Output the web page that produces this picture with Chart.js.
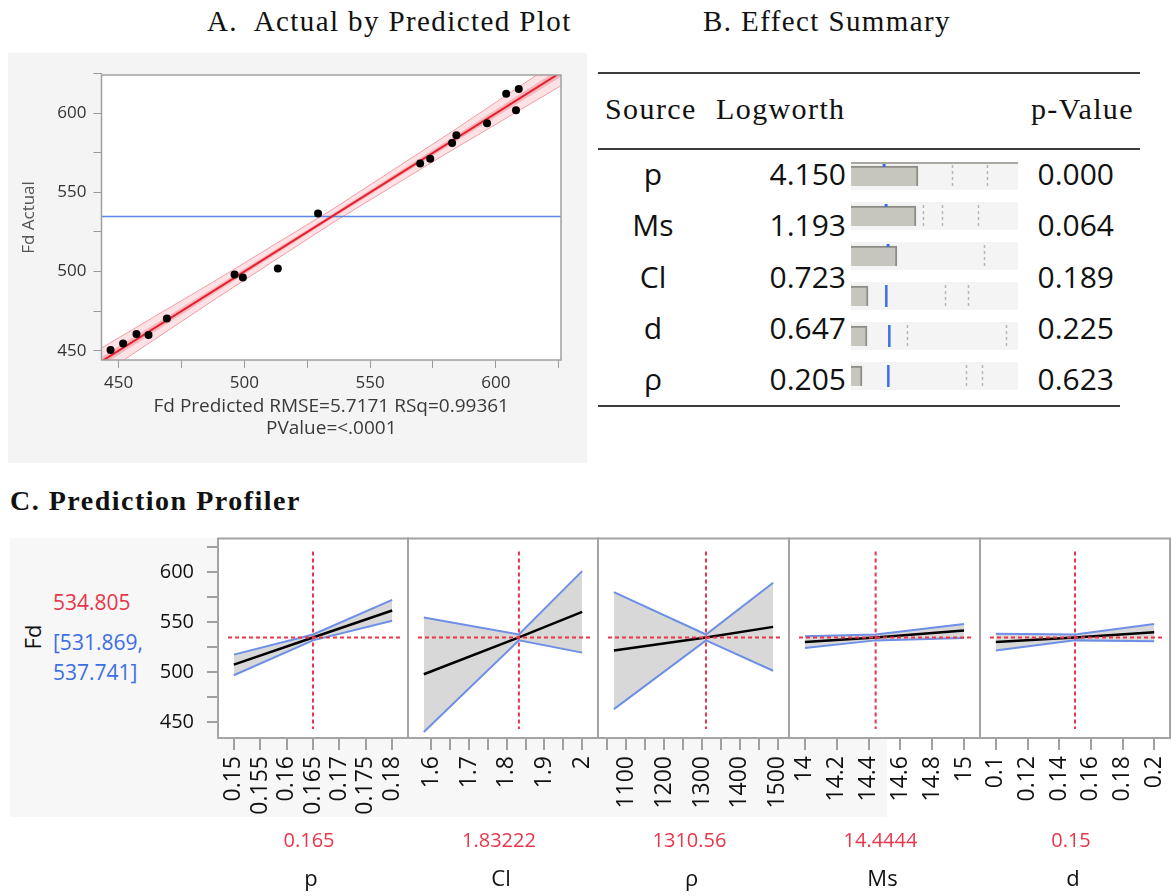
<!DOCTYPE html>
<html>
<head>
<meta charset="utf-8">
<title>Fd model: actual by predicted, effect summary, profiler</title>
<script src="https://cdn.jsdelivr.net/npm/chart.js@4.4.1/dist/chart.umd.min.js"></script>
<style>
  body { margin: 0; background: #fff; }
  #page { position: relative; width: 1172px; height: 896px; overflow: hidden; font-family: "Open Sans", "Noto Sans", sans-serif; color: #111; }
  .abs { position: absolute; white-space: nowrap; line-height: 1.3; }
  .serif { font-family: "Liberation Serif", "Times New Roman", serif; letter-spacing: 1.4px; color: #111; }
  .vc { transform: translateY(-50%); }
  .cc { transform: translate(-50%, -50%); }
  .rule { position: absolute; height: 2px; background: #3c3c3c; }
  canvas { position: absolute; }
</style>
</head>
<body>
<div id="page">
  <!-- A -->
  <div class="abs serif vc" style="left:207px;top:22px;font-size:29px">A.&nbsp; Actual by Predicted Plot</div>
  <div class="abs" style="left:8px;top:53px;width:579px;height:410px;background:#f4f4f4"></div>
  <canvas id="chartA" width="579" height="410" style="left:8px;top:53px"></canvas>

  <!-- B -->
  <div class="abs serif vc" style="left:703px;top:22px;font-size:29px">B. Effect Summary</div>
  <div class="rule" style="left:598px;top:72px;width:542px"></div>
  <div class="abs serif vc" style="left:605px;top:108px;font-size:30px">Source</div>
  <div class="abs serif vc" style="left:716px;top:108px;font-size:30px">Logworth</div>
  <div class="abs serif vc" style="right:38px;top:108px;font-size:30px">p-Value</div>
  <div class="rule" style="left:598px;top:148px;width:542px"></div>
  <div id="tableRows"></div>
  <canvas id="chartB" width="180" height="240" style="left:845px;top:156px"></canvas>
  <div class="rule" style="left:598px;top:405px;width:522px"></div>

  <!-- C -->
  <div class="abs serif vc" style="left:10px;top:501px;font-size:28px;font-weight:bold;letter-spacing:1.5px">C. Prediction Profiler</div>
  <div class="abs" style="left:10px;top:538px;width:877px;height:279px;background:#f7f7f7"></div>
  <div class="abs cc" style="left:32px;top:637px;font-size:22px;transform:translate(-50%,-50%) rotate(-90deg)">Fd</div>
  <div id="profLeft"></div>
  <div id="profCanvases"></div>
  <div id="profBottom"></div>
</div>

<script>
const FONT = '"Open Sans", "Noto Sans", sans-serif';
const RED = '#e8364b';
const BLUE = '#3d6ee6';

// ---------- A. Actual by Predicted ----------
const fdPredicted = [446.8, 451.8, 457.1, 461.9, 469.2, 496.1, 499.4, 513.3, 529.3, 569.9, 573.9, 582.6, 584.3, 596.5, 604.1, 608.0, 609.1];
const fdActual    = [450.4, 454.6, 460.5, 459.9, 470.4, 498.2, 496.3, 502.0, 536.7, 568.3, 571.3, 581.2, 586.2, 593.7, 612.4, 602.0, 615.3];
const fdMean = 534.8;
const fitLineX = [443, 626];
const fitLineY = [443, 626];
const bandX   = [443, 489, 535, 581, 626];
const outerLo = [434.5, 483.2, 530.7, 575.2, 617.5];
const outerHi = [451.5, 494.8, 539.3, 586.8, 634.5];
const innerLo = [440.2, 487.1, 533.6, 579.1, 623.2];
const innerHi = [445.8, 490.9, 536.4, 582.9, 628.8];
const aTicks = [450, 475, 500, 525, 550, 575, 600, 625];
const aTickLabels = ['450', '', '500', '', '550', '', '600', ''];
const aXRange = [443.2, 625.9];
const aYRange = [444.1, 624.2];

// ---------- B. Effect Summary ----------
const sources  = ['p', 'Ms', 'Cl', 'd', 'ρ'];
const logworth = [4.150, 1.193, 0.723, 0.647, 0.205];
const pValues  = [0.000, 0.064, 0.189, 0.225, 0.623];
// the bar strip in the figure has six rows
const barRows   = ['1', '2', '3', '4', '5', '6'];
const barLength = [4.01, 3.89, 2.75, 1.02, 0.96, 0.66];
const blueMark  = [1.98, 2.10, 2.22, 2.10, 2.28, 2.22];
const dashMarks = [[6.05, 8.14], [4.31, 5.45, 7.60], [7.96], [5.63, 7.01], [3.35, 9.28], [6.89, 7.84]];

// ---------- C. Prediction Profiler ----------
const factors     = ['p', 'Cl', 'ρ', 'Ms', 'd'];
const currentX    = [0.165, 1.83222, 1310.56, 14.4444, 0.15];
const currentText = ['0.165', '1.83222', '1310.56', '14.4444', '0.15'];
const traceLowX   = [0.15, 1.58, 1067, 14, 0.1];
const traceHighX  = [0.18, 2.0, 1488, 15, 0.2];
const predLowEnd  = [507.6, 497.9, 521.8, 530.3, 530.3];
const predHighEnd = [561.8, 560.5, 545.4, 541.7, 540.0];
const upperLowEnd = [517.6, 554.8, 580.2, 535.9, 538.6];
const upperHighEnd= [572.5, 601.3, 589.6, 548.4, 548.4];
const lowerLowEnd = [496.9, 440.0, 462.9, 524.2, 521.8];
const lowerHighEnd= [551.5, 519.6, 501.4, 534.3, 530.9];
const fdPred = 534.805, fdLower = 531.869, fdUpper = 537.741;
const xMin = [0.147, 1.538, 1025, 13.9, 0.09];
const xMax = [0.183, 2.042, 1530, 15.1, 0.21];
const xTicks = [
  [0.15, 0.155, 0.16, 0.165, 0.17, 0.175, 0.18],
  [1.6, 1.65, 1.7, 1.75, 1.8, 1.85, 1.9, 1.95, 2.0],
  [1050, 1100, 1150, 1200, 1250, 1300, 1350, 1400, 1450, 1500],
  [14, 14.2, 14.4, 14.6, 14.8, 15],
  [0.1, 0.12, 0.14, 0.16, 0.18, 0.2]
];
const xTickLabels = [
  ['0.15', '0.155', '0.16', '0.165', '0.17', '0.175', '0.18'],
  ['1.6', '', '1.7', '', '1.8', '', '1.9', '', '2'],
  ['', '1100', '', '1200', '', '1300', '', '1400', '', '1500'],
  ['14', '14.2', '14.4', '14.6', '14.8', '15'],
  ['0.1', '0.12', '0.14', '0.16', '0.18', '0.2']
];
const fdTicks = [450, 475, 500, 525, 550, 575, 600, 625];
const fdTickLabels = ['450', '', '500', '', '550', '', '600', ''];
const fdRange = [434, 634];

// panel frames (page px)
const panelLeft  = [218, 408, 598, 789, 980];
const panelRight = [408, 598, 789, 980, 1170];

const pts = (xs, ys) => xs.map((x, i) => ({ x: x, y: ys[i] }));

const framePlugin = {
  id: 'frame',
  beforeDraw(chart) {
    const a = chart.chartArea, ctx = chart.ctx;
    ctx.save();
    ctx.fillStyle = '#fff';
    ctx.fillRect(a.left, a.top, a.right - a.left, a.bottom - a.top);
    ctx.restore();
  },
  afterDraw(chart, args, opts) {
    const a = chart.chartArea, ctx = chart.ctx;
    ctx.save();
    ctx.strokeStyle = opts.color || '#a6a6a6';
    ctx.lineWidth = opts.width || 1;
    ctx.strokeRect(a.left, a.top, a.right - a.left, a.bottom - a.top);
    ctx.restore();
  }
};

// ---------- chart A ----------
new Chart(document.getElementById('chartA'), {
  type: 'scatter',
  data: {
    datasets: [
      { data: pts(fdPredicted, fdActual), pointRadius: 4, pointBackgroundColor: '#000', pointBorderWidth: 0, showLine: false },
      { type: 'line', data: pts(fitLineX, fitLineY), borderColor: '#e3202e', borderWidth: 2, pointRadius: 0 },
      { type: 'line', data: pts(aXRange, [fdMean, fdMean]), borderColor: '#5a88e6', borderWidth: 1.5, pointRadius: 0 },
      { type: 'line', data: pts(bandX, innerLo), borderWidth: 0, pointRadius: 0, fill: false },
      { type: 'line', data: pts(bandX, innerHi), borderWidth: 0, pointRadius: 0, fill: 3, backgroundColor: 'rgba(232,50,70,0.25)' },
      { type: 'line', data: pts(bandX, outerLo), borderColor: 'rgba(236,90,105,0.55)', borderWidth: 1, pointRadius: 0, fill: false },
      { type: 'line', data: pts(bandX, outerHi), borderColor: 'rgba(236,90,105,0.55)', borderWidth: 1, pointRadius: 0, fill: 5, backgroundColor: 'rgba(240,110,125,0.2)' }
    ]
  },
  options: {
    responsive: false,
    animation: false,
    layout: { padding: { top: 22, right: 26, left: 0, bottom: 0 } },
    plugins: { legend: { display: false }, tooltip: { enabled: false }, frame: { color: '#a0a0a0', width: 1.5 } },
    scales: {
      x: {
        type: 'linear', min: aXRange[0], max: aXRange[1],
        afterBuildTicks: s => { s.ticks = aTicks.map(v => ({ value: v })); },
        afterFit: s => { s.height = 103; s.paddingLeft = 0; s.paddingRight = 0; },
        ticks: { callback: (v, i) => aTickLabels[i], color: '#333', font: { family: FONT, size: 17 }, padding: 5, maxRotation: 0, autoSkip: false },
        grid: { drawOnChartArea: false, tickLength: 8, color: '#9a9a9a' },
        border: { display: false },
        title: { display: true, text: ['Fd Predicted RMSE=5.7171 RSq=0.99361', 'PValue=<.0001'], color: '#3a3a3a', font: { family: FONT, size: 19, lineHeight: 1.14 }, padding: { top: 0, bottom: 24 } }
      },
      y: {
        type: 'linear', min: aYRange[0], max: aYRange[1],
        afterBuildTicks: s => { s.ticks = aTicks.map(v => ({ value: v })); },
        afterFit: s => { s.width = 93.5; s.paddingTop = 0; s.paddingBottom = 0; },
        ticks: { callback: (v, i) => aTickLabels[i], color: '#333', font: { family: FONT, size: 17 }, padding: 7, autoSkip: false },
        grid: { drawOnChartArea: false, tickLength: 8, color: '#9a9a9a' },
        border: { display: false },
        title: { display: true, text: 'Fd Actual', color: '#555', font: { family: FONT, size: 17 }, padding: { top: 11, bottom: 0 } }
      }
    }
  },
  plugins: [framePlugin]
});

// ---------- B table text ----------
const rowsDiv = document.getElementById('tableRows');
sources.forEach((s, i) => {
  const cy = 173 + i * 51.25;
  rowsDiv.insertAdjacentHTML('beforeend',
    `<div class="abs cc" style="left:653px;top:${cy}px;font-size:30px">${s}</div>` +
    `<div class="abs vc" style="right:326px;top:${cy}px;font-size:30px">${logworth[i].toFixed(3)}</div>` +
    `<div class="abs vc" style="right:58px;top:${cy}px;font-size:30px">${pValues[i].toFixed(3)}</div>`);
});

const effectRowsPlugin = {
  id: 'effectRows',
  beforeDatasetsDraw(chart) {
    const { ctx, chartArea: a, scales: { y } } = chart;
    ctx.save();
    barRows.forEach((r, i) => {
      const yc = y.getPixelForValue(i);
      ctx.fillStyle = '#f4f4f4';
      ctx.fillRect(a.left, yc - 14, a.right - a.left, 28);
    });
    const y0 = y.getPixelForValue(0) - 13;
    ctx.strokeStyle = '#a9a9a1';
    ctx.lineWidth = 2;
    ctx.beginPath(); ctx.moveTo(a.left, y0); ctx.lineTo(a.right, y0); ctx.stroke();
    ctx.restore();
  },
  afterDatasetsDraw(chart) {
    const { ctx, scales: { x, y } } = chart;
    ctx.save();
    barRows.forEach((r, i) => {
      const yc = y.getPixelForValue(i);
      ctx.strokeStyle = '#b5b5b5';
      ctx.lineWidth = 1.5;
      ctx.setLineDash([3, 3]);
      dashMarks[i].forEach(v => {
        const px = Math.round(x.getPixelForValue(v)) + 0.5;
        ctx.beginPath(); ctx.moveTo(px, yc - 11); ctx.lineTo(px, yc + 11); ctx.stroke();
      });
      ctx.setLineDash([]);
      const bx = x.getPixelForValue(blueMark[i]);
      ctx.fillStyle = BLUE;
      if (i < 3) {
        ctx.fillRect(bx - 1.5, yc - 12, 3, 3);
      } else {
        ctx.fillRect(bx - 1, yc - 11, 2.5, 22);
      }
    });
    ctx.restore();
  }
};

new Chart(document.getElementById('chartB'), {
  type: 'bar',
  data: {
    labels: barRows,
    datasets: [{ data: barLength, backgroundColor: '#c7c6be', borderColor: '#8e8d85', borderWidth: { top: 2, right: 2, bottom: 0, left: 0 }, borderSkipped: false, barThickness: 20 }]
  },
  options: {
    indexAxis: 'y',
    responsive: false,
    animation: false,
    layout: { padding: { left: 6, right: 7, top: 0, bottom: 0 } },
    scales: { x: { display: false, min: 0, max: 10 }, y: { display: false } },
    plugins: { legend: { display: false }, tooltip: { enabled: false } }
  },
  plugins: [effectRowsPlugin]
});

// ---------- C profiler ----------
document.getElementById('profLeft').innerHTML =
  `<div class="abs vc" style="left:53px;top:603px;font-size:21px;color:${RED}">${fdPred.toFixed(3)}</div>` +
  `<div class="abs vc" style="left:53px;top:643px;font-size:21px;color:${BLUE}">[${fdLower.toFixed(3)},</div>` +
  `<div class="abs vc" style="left:53px;top:673px;font-size:21px;color:${BLUE}">${fdUpper.toFixed(3)}]</div>`;

const crossPlugin = {
  id: 'cross',
  afterDatasetsDraw(chart, args, opts) {
    const { ctx, chartArea: a, scales: { x, y } } = chart;
    const px = x.getPixelForValue(opts.x), py = y.getPixelForValue(opts.y);
    ctx.save();
    ctx.strokeStyle = RED;
    ctx.lineWidth = 2;
    ctx.setLineDash([4, 3]);
    ctx.beginPath();
    ctx.moveTo(px, a.top + 13); ctx.lineTo(px, a.bottom - 9);
    ctx.moveTo(a.left + 10, py); ctx.lineTo(a.right - 6, py);
    ctx.stroke();
    ctx.restore();
  }
};

const canvasHost = document.getElementById('profCanvases');
const bottomHost = document.getElementById('profBottom');

factors.forEach((f, i) => {
  const cLeft = i === 0 ? 140 : panelLeft[i] - 1;
  const cWidth = panelRight[i] + 1 - cLeft;
  const cv = document.createElement('canvas');
  cv.width = cWidth; cv.height = 300;
  cv.style.left = cLeft + 'px'; cv.style.top = '530px';
  canvasHost.appendChild(cv);

  const mid = (panelLeft[i] + panelRight[i]) / 2;
  bottomHost.insertAdjacentHTML('beforeend',
    `<div class="abs cc" style="left:${mid - 4}px;top:840px;font-size:20px;color:${RED}">${currentText[i]}</div>` +
    `<div class="abs cc" style="left:${mid - 2}px;top:877px;font-size:22px">${f}</div>`);

  const xs = [traceLowX[i], currentX[i], traceHighX[i]];
  const yAxis = i === 0 ? {
    min: fdRange[0], max: fdRange[1],
    afterBuildTicks: s => { s.ticks = fdTicks.map(v => ({ value: v })); },
    afterFit: s => { s.width = 78; s.paddingTop = 0; s.paddingBottom = 0; },
    ticks: { callback: (v, k) => fdTickLabels[k], color: '#111', font: { family: FONT, size: 20 }, padding: 13, autoSkip: false },
    grid: { drawOnChartArea: false, tickLength: 11, color: '#a0a0a0', lineWidth: 2 },
    border: { display: false }
  } : { display: false, min: fdRange[0], max: fdRange[1] };

  new Chart(cv, {
    type: 'line',
    data: {
      datasets: [
        { data: pts(xs, [predLowEnd[i], fdPred, predHighEnd[i]]), borderColor: '#000', borderWidth: 2.5, pointRadius: 0 },
        { data: pts(xs, [lowerLowEnd[i], fdLower, lowerHighEnd[i]]), borderColor: '#6d8fe6', borderWidth: 2, pointRadius: 0, fill: false },
        { data: pts(xs, [upperLowEnd[i], fdUpper, upperHighEnd[i]]), borderColor: '#6d8fe6', borderWidth: 2, pointRadius: 0, fill: 1, backgroundColor: '#d8d8d8' }
      ]
    },
    options: {
      responsive: false,
      animation: false,
      layout: { padding: { top: 8.5, bottom: 0, left: i === 0 ? 0 : 1, right: 1 } },
      plugins: {
        legend: { display: false }, tooltip: { enabled: false },
        frame: { color: '#a4a4a4', width: 2 },
        cross: { x: currentX[i], y: fdPred }
      },
      scales: {
        x: {
          type: 'linear', min: xMin[i], max: xMax[i],
          afterBuildTicks: s => { s.ticks = xTicks[i].map(v => ({ value: v })); },
          afterFit: s => { s.height = 92; s.paddingLeft = 0; s.paddingRight = 0; },
          ticks: { callback: (v, k) => xTickLabels[i][k], color: '#111', font: { family: FONT, size: 23 }, padding: 6, minRotation: 90, maxRotation: 90, autoSkip: false },
          grid: { drawOnChartArea: false, tickLength: 12, color: '#a0a0a0', lineWidth: 2 },
          border: { display: false }
        },
        y: yAxis
      }
    },
    plugins: [framePlugin, crossPlugin]
  });
});
</script>
</body>
</html>
